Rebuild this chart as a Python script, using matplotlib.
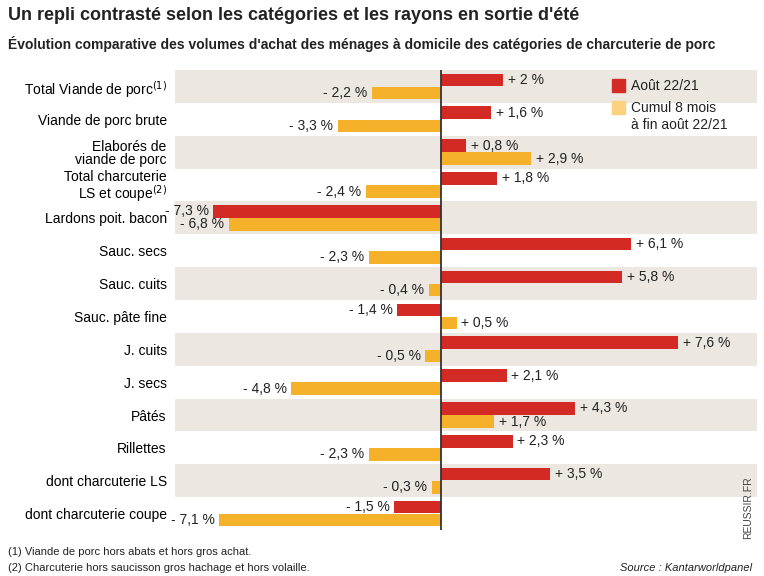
import matplotlib
matplotlib.use("Agg")
import matplotlib.pyplot as plt
import numpy as np

plt.rcParams['font.family'] = ['Liberation Sans Narrow', 'Liberation Sans', 'DejaVu Sans']

categories = ["Total Viande de porc$^{(1)}$", "Viande de porc brute", "Elaborés de\nviande de porc",
              "Total charcuterie\nLS et coupe$^{(2)}$", "Lardons poit. bacon", "Sauc. secs", "Sauc. cuits",
              "Sauc. pâte fine", "J. cuits", "J. secs", "Pâtés", "Rillettes",
              "dont charcuterie LS", "dont charcuterie coupe"]
aout = [2, 1.6, 0.8, 1.8, -7.3, 6.1, 5.8, -1.4, 7.6, 2.1, 4.3, 2.3, 3.5, -1.5]
cumul = [-2.2, -3.3, 2.9, -2.4, -6.8, -2.3, -0.4, 0.5, -0.5, -4.8, 1.7, -2.3, -0.3, -7.1]

RED = "#d42a25"
ORANGE = "#f6b12a"
SHADE = "#ece8e1"

W, H = 764, 576
fig = plt.figure(figsize=(W/100, H/100), dpi=100)
ax = fig.add_axes([175/W, 46/H, (764-175)/W, 460/H])
n = len(categories)
y = np.arange(n)
xmin = -(441-175)/31.2
xmax = (764-441)/31.2
ax.set_xlim(xmin, xmax)
ax.set_ylim(n-0.5, -0.5)
for i in range(0, n, 2):
    ax.axhspan(i-0.5, i+0.5, xmin=0, xmax=(757-175)/(764-175), color=SHADE, zorder=0, lw=0)
bh = 0.38
ax.barh(y-0.2, aout, height=bh, color=RED, zorder=2)
ax.barh(y+0.2, cumul, height=bh, color=ORANGE, zorder=2)
ax.axvline(0, color="#333333", lw=1.3, zorder=3)

def fmt(v):
    return ("+ " if v > 0 else "- ") + f"{abs(v):g}".replace(".", ",") + " %"
for yy, vals in ((y-0.2, aout), (y+0.2, cumul)):
    for yi, v in zip(yy, vals):
        off = 0.15 if v > 0 else -0.15
        ax.text(v+off, yi, fmt(v), ha="left" if v > 0 else "right", va="center", fontsize=10, color="#222222")

ax.set_yticks(y)
ax.set_yticklabels(categories, fontsize=10, linespacing=0.95)
ax.tick_params(axis="y", length=0, pad=6)
ax.set_xticks([])
for s in ax.spines.values():
    s.set_visible(False)

fig.patches.append(plt.Rectangle((612/W, 1-92/H), 13/W, 13/H, color=RED, transform=fig.transFigure))
fig.text(631/W, 1-86/H, "Août 22/21", fontsize=10, va="center", color="#222222")
fig.patches.append(plt.Rectangle((612/W, 1-114/H), 13/W, 13/H, color="#fcd27f", transform=fig.transFigure))
fig.text(631/W, 1-108/H, "Cumul 8 mois", fontsize=10, va="center", color="#222222")
fig.text(631/W, 1-125/H, "à fin août 22/21", fontsize=10, va="center", color="#222222")

fig.text(8/W, 1-16/H, "Un repli contrasté selon les catégories et les rayons en sortie d'été",
         fontsize=13, fontweight="bold", va="center", color="#222222")
fig.text(8/W, 1-44/H, "Évolution comparative des volumes d'achat des ménages à domicile des catégories de charcuterie de porc",
         fontsize=10, fontweight="bold", va="center", color="#222222")
fig.text(8/W, 1-552/H, "(1) Viande de porc hors abats et hors gros achat.", fontsize=8, va="center", color="#222222")
fig.text(8/W, 1-568/H, "(2) Charcuterie hors saucisson gros hachage et hors volaille.", fontsize=8, va="center", color="#222222")
fig.text(752/W, 1-568/H, "Source : Kantarworldpanel", fontsize=8, style="italic", ha="right", va="center", color="#222222")
fig.text(748/W, 1-508/H, "REUSSIR.FR", fontsize=7.5, rotation=90, ha="center", va="center", color="#444444")

fig.savefig("out.png", dpi=100)
